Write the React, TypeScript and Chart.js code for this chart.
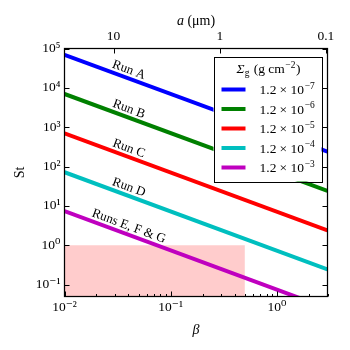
import { useEffect, useRef } from "react";
import { Chart, registerables } from "chart.js";

Chart.register(...registerables);

// ---------- data ----------
const betaEnds = [0.01, 3];
const runNames = ["Run A", "Run B", "Run C", "Run D", "Runs E, F & G"];
const sigmaMantissa = ["1.2", "1.2", "1.2", "1.2", "1.2"];
const sigmaExponent = [-7, -6, -5, -4, -3];
const stAtBetaMin = [6.9e4, 7.0e3, 7.0e2, 72, 7.4];
const stAtBetaMax = [240, 24, 2.4, 0.245, 0.025];
const lineColors = ["#0000ff", "#008000", "#ff0000", "#00bfbf", "#bf00bf"];
const shadedBeta = [0.01, 0.5];
const shadedStTop = [1, 1];
const xMajorTicks = [0.01, 0.1, 1];
const yMajorTicks = [0.1, 1, 10, 100, 1000, 10000, 100000];
const aTicks = [10, 1, 0.1];
const aTimesBeta = 0.29; // a (µm) × β
const xMin = 0.01;
const xMax = 3;
const yMin = 0.05;
const yMax = 1e5;
const runLabelBeta = 0.038;

const SERIF = '"Liberation Serif", "DejaVu Serif", serif';
const SUP: Record<string, string> = {
  "-": "⁻", "0": "⁰", "1": "¹", "2": "²", "3": "³", "4": "⁴",
  "5": "⁵", "6": "⁶", "7": "⁷", "8": "⁸", "9": "⁹",
};
const toSup = (n: number) => String(n).split("").map((c) => SUP[c] ?? c).join("");
const isIn = (arr: number[], v: number) => arr.some((t) => Math.abs(t - v) / t < 1e-6);

type Part = { t: string; italic?: boolean; mode?: "sup" | "sub"; gapBefore?: number };

function drawRich(ctx: CanvasRenderingContext2D, parts: Part[], x: number, y: number, align: "left" | "center", size: number) {
  const items = parts.map((p) => {
    const s = p.mode ? size * 0.7 : size;
    const font = `${p.italic ? "italic " : ""}${s}px ${SERIF}`;
    ctx.font = font;
    const w = ctx.measureText(p.t).width;
    return { ...p, font, w };
  });
  const total = items.reduce((acc, it) => acc + it.w + (it.gapBefore ?? 0), 0);
  let cx = align === "center" ? x - total / 2 : x;
  ctx.textAlign = "left";
  ctx.textBaseline = "alphabetic";
  for (const it of items) {
    cx += it.gapBefore ?? 0;
    ctx.font = it.font;
    const dy = it.mode === "sup" ? -size * 0.4 : it.mode === "sub" ? size * 0.22 : 0;
    ctx.fillText(it.t, cx, y + dy);
    cx += it.w;
  }
}

const decor = {
  id: "decor",
  afterDatasetsDraw(chart: any) {
    const { ctx, chartArea: a, scales } = chart;
    const xs = scales.x;
    const ys = scales.y;
    const x2 = scales.x2;
    ctx.save();
    ctx.fillStyle = "#000";

    // run labels along the lines
    runNames.forEach((name, i) => {
      const meta = chart.getDatasetMeta(i + 1);
      const p0 = meta.data[0];
      const p1 = meta.data[1];
      const ang = Math.atan2(p1.y - p0.y, p1.x - p0.x);
      const px = xs.getPixelForValue(runLabelBeta);
      const t = (px - p0.x) / (p1.x - p0.x);
      const py = p0.y + t * (p1.y - p0.y);
      const off = 8;
      const cx = px + Math.sin(ang) * off;
      const cy = py - Math.cos(ang) * off;
      ctx.save();
      ctx.translate(cx, cy);
      ctx.rotate(ang);
      ctx.font = `13px ${SERIF}`;
      ctx.textAlign = "center";
      ctx.textBaseline = "middle";
      ctx.fillText(name, 0, 0);
      ctx.restore();
    });

    // legend
    const lw = 108;
    const lh = 125;
    const lx = a.right - 6 - lw;
    const ly = a.top + 8;
    ctx.fillStyle = "#fff";
    ctx.fillRect(lx, ly, lw, lh);
    ctx.strokeStyle = "#000";
    ctx.lineWidth = 1;
    ctx.strokeRect(Math.round(lx) + 0.5, Math.round(ly) + 0.5, lw, lh);
    ctx.fillStyle = "#000";
    drawRich(
      ctx,
      [
        { t: "Σ", italic: true },
        { t: "g", mode: "sub" },
        { t: " (g cm", gapBefore: 1 },
        { t: "−2", mode: "sup", gapBefore: 0.5 },
        { t: ")", gapBefore: 0.5 },
      ],
      lx + lw / 2 + 1,
      ly + 16.5,
      "center",
      13.5
    );
    sigmaExponent.forEach((e, i) => {
      const rowY = ly + 33 + i * 19.5;
      ctx.strokeStyle = lineColors[i];
      ctx.lineWidth = 4;
      ctx.beginPath();
      ctx.moveTo(lx + 8, rowY);
      ctx.lineTo(lx + 32, rowY);
      ctx.stroke();
      ctx.fillStyle = "#000";
      drawRich(
        ctx,
        [
          { t: sigmaMantissa[i] },
          { t: "×", gapBefore: 3.2 },
          { t: "10", gapBefore: 3.2 },
          { t: "−" + String(Math.abs(e)), mode: "sup", gapBefore: 0.8 },
        ],
        lx + 46,
        rowY + 4.5,
        "left",
        13.5
      );
    });

    // frame
    ctx.strokeStyle = "#000";
    ctx.lineWidth = 1.25;
    ctx.strokeRect(a.left, a.top, a.right - a.left, a.bottom - a.top);

    // ticks (inward)
    ctx.lineWidth = 1;
    ctx.beginPath();
    for (let k = -2; k <= 0; k++) {
      for (let m = 1; m <= 9; m++) {
        const v = m * Math.pow(10, k);
        if (v < xMin * 0.999 || v > xMax * 1.001) continue;
        const px = Math.round(xs.getPixelForValue(v)) + 0.5;
        const len = m === 1 ? 5 : 2.5;
        ctx.moveTo(px, a.bottom);
        ctx.lineTo(px, a.bottom - len);
      }
    }
    yMajorTicks.forEach((v) => {
      const py = Math.round(ys.getPixelForValue(v)) + 0.5;
      ctx.moveTo(a.left, py);
      ctx.lineTo(a.left + 5, py);
      ctx.moveTo(a.right, py);
      ctx.lineTo(a.right - 5, py);
    });
    aTicks.forEach((v) => {
      const px = Math.round(x2.getPixelForValue(v)) + 0.5;
      ctx.moveTo(px, a.top);
      ctx.lineTo(px, a.top + 5);
    });
    ctx.stroke();

    // axis titles
    ctx.fillStyle = "#000";
    ctx.save();
    ctx.translate(20, (a.top + a.bottom) / 2);
    ctx.rotate(-Math.PI / 2);
    ctx.font = `14px ${SERIF}`;
    ctx.textAlign = "center";
    ctx.textBaseline = "middle";
    ctx.fillText("St", 0, 0);
    ctx.restore();

    ctx.font = `italic 14px ${SERIF}`;
    ctx.textAlign = "center";
    ctx.textBaseline = "middle";
    ctx.fillText("β", (a.left + a.right) / 2, 330);

    drawRich(
      ctx,
      [{ t: "a", italic: true }, { t: " (μm)" }],
      (a.left + a.right) / 2,
      25,
      "center",
      14
    );
    ctx.restore();
  },
};

export default function App() {
  const ref = useRef<HTMLCanvasElement | null>(null);
  useEffect(() => {
    if (!ref.current) return;
    const lineSets = runNames.map((name, i) => ({
      label: name,
      data: [
        { x: betaEnds[0], y: stAtBetaMin[i] },
        { x: betaEnds[1], y: stAtBetaMax[i] },
      ],
      borderColor: lineColors[i],
      borderWidth: 4,
      pointRadius: 0,
      fill: false,
      clip: 0,
      order: 0,
      xAxisID: "x",
      yAxisID: "y",
    }));
    const shade = {
      label: "shade",
      data: shadedBeta.map((b, i) => ({ x: b, y: shadedStTop[i] })),
      borderWidth: 0,
      borderColor: "rgba(0,0,0,0)",
      backgroundColor: "#ffcccc",
      pointRadius: 0,
      fill: "start",
      clip: 0,
      order: 5,
      xAxisID: "x",
      yAxisID: "y",
    };
    const tickFont = { family: SERIF, size: 13.5 };
    const chart = new Chart(ref.current, {
      type: "line",
      data: { datasets: [shade as any, ...lineSets] },
      options: {
        responsive: false,
        animation: false,
        events: [],
        layout: { padding: { left: 0, right: 350 - 327.5, top: 0, bottom: 0 } },
        plugins: { legend: { display: false }, tooltip: { enabled: false } },
        scales: {
          x: {
            type: "logarithmic",
            position: "bottom",
            min: xMin,
            max: xMax,
            grid: { display: false, drawTicks: false },
            border: { display: false },
            afterBuildTicks: (s: any) => {
              s.ticks = xMajorTicks.map((v) => ({ value: v }));
            },
            afterFit: (s: any) => {
              s.height = 350 - 296.5;
            },
            ticks: {
              autoSkip: false,
              maxRotation: 0,
              padding: 3,
              color: "#000",
              font: tickFont,
              callback: (v: any) => (isIn(xMajorTicks, Number(v)) ? "10" + toSup(Math.round(Math.log10(Number(v)))) : ""),
            },
          },
          x2: {
            type: "logarithmic",
            position: "top",
            reverse: true,
            min: aTimesBeta / xMax,
            max: aTimesBeta / xMin,
            grid: { display: false, drawTicks: false },
            border: { display: false },
            afterBuildTicks: (s: any) => {
              s.ticks = aTicks.map((v) => ({ value: v }));
            },
            afterFit: (s: any) => {
              s.height = 48.5;
            },
            ticks: {
              autoSkip: false,
              maxRotation: 0,
              padding: 4,
              color: "#000",
              font: tickFont,
              callback: (v: any) => (isIn(aTicks, Number(v)) ? String(Number(v)) : ""),
            },
          },
          y: {
            type: "logarithmic",
            min: yMin,
            max: yMax,
            grid: { display: false, drawTicks: false },
            border: { display: false },
            afterBuildTicks: (s: any) => {
              s.ticks = yMajorTicks.map((v) => ({ value: v }));
            },
            afterFit: (s: any) => {
              s.width = 64.5;
            },
            ticks: {
              autoSkip: false,
              padding: 4,
              color: "#000",
              font: tickFont,
              callback: (v: any) => (isIn(yMajorTicks, Number(v)) ? "10" + toSup(Math.round(Math.log10(Number(v)))) : ""),
            },
          },
        },
      } as any,
      plugins: [decor],
    });
    return () => chart.destroy();
  }, []);
  return (
    <div style={{ position: "absolute", left: 0, top: 0, width: 350, height: 350, background: "#fff" }}>
      <canvas ref={ref} width={350} height={350} style={{ display: "block", width: 350, height: 350 }} />
    </div>
  );
}
